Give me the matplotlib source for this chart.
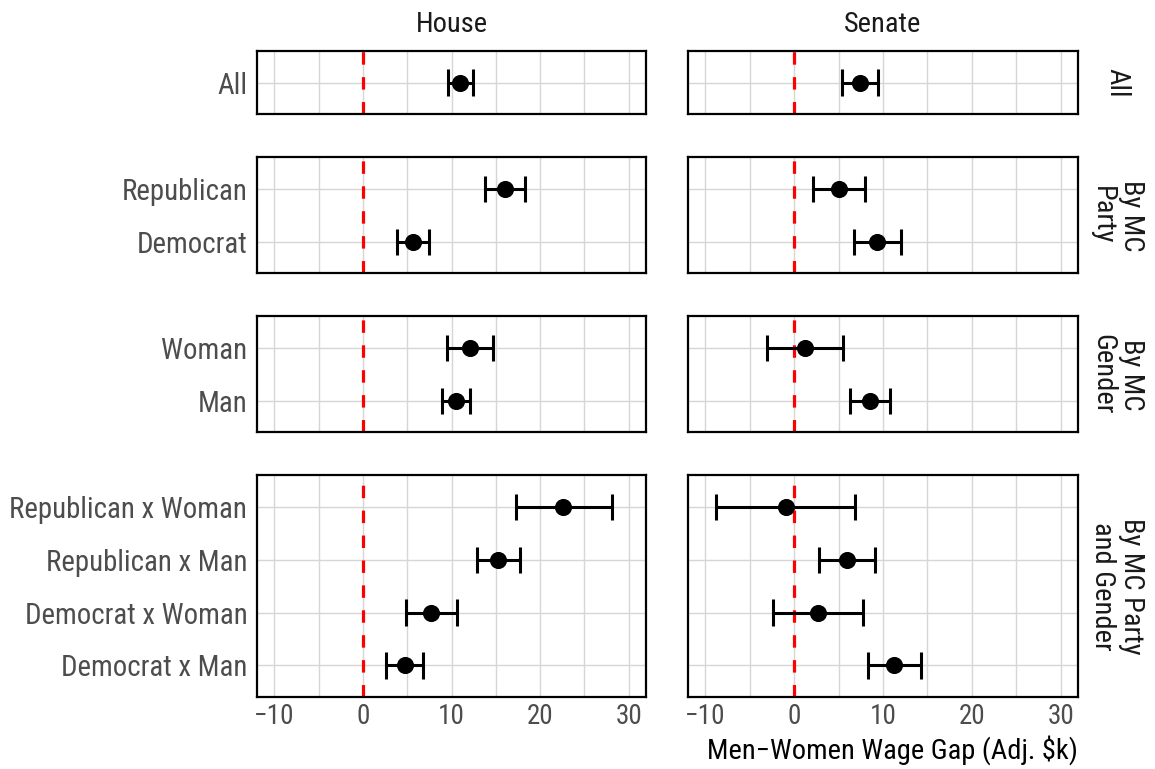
import matplotlib
matplotlib.use("Agg")
import matplotlib.pyplot as plt
import numpy as np

plt.rcParams['font.family'] = ['Roboto Condensed', 'DejaVu Sans']

# Facet columns and rows
chambers = ["House", "Senate"]
groups = ["All", "By MC\nParty", "By MC\nGender", "By MC Party\nand Gender"]
group_labels = [
    ["All"],
    ["Republican", "Democrat"],
    ["Woman", "Man"],
    ["Republican x Woman", "Republican x Man", "Democrat x Woman", "Democrat x Man"],
]

# Estimated men-women wage gap (adj. $k) with confidence limits
house_est = [[10.97], [16.08, 5.63], [12.1, 10.5], [22.6, 15.3, 7.7, 4.77]]
house_lo = [[9.55], [13.83, 3.87], [9.5, 8.94], [17.25, 12.85, 4.88, 2.63]]
house_hi = [[12.4], [18.33, 7.44], [14.65, 12.13], [28.07, 17.73, 10.6, 6.84]]

senate_est = [[7.4], [5.03, 9.35], [1.2, 8.56], [-0.93, 5.97, 2.7, 11.26]]
senate_lo = [[5.4], [2.1, 6.72], [-3.04, 6.3], [-8.8, 2.82, -2.43, 8.26]]
senate_hi = [[9.39], [8.0, 11.98], [5.52, 10.78], [6.9, 9.05, 7.7, 14.27]]

est = [house_est, senate_est]
lo = [house_lo, senate_lo]
hi = [house_hi, senate_hi]

x_major = [-10, 0, 10, 20, 30]
x_minor = [-5, 5, 15, 25]

W, H = 1155, 769
fig = plt.figure(figsize=(W / 100, H / 100), dpi=100)

col_px = [(257, 646), (688, 1078)]
unit = 52.76
gap = 43
top0 = 51

grid_col = "#d6d6d6"
label_col = "#4d4d4d"
strip_size = 20.5

row_tops = []
top = top0
for r, labels in enumerate(group_labels):
    n = len(labels)
    h = (n + 0.2) * unit
    row_tops.append((top, top + h))
    for c in range(2):
        x0, x1 = col_px[c]
        ax = fig.add_axes([x0 / W, 1 - (top + h) / H, (x1 - x0) / W, h / H])
        ax.set_xlim(-11.95, 31.95)
        ax.set_ylim(0.4, n + 0.6)
        ypos = np.arange(n, 0, -1)

        ax.set_xticks(x_major)
        ax.set_xticks(x_minor, minor=True)
        ax.set_yticks(ypos)
        ax.grid(which="both", axis="x", color=grid_col, lw=1.0, zorder=0)
        ax.grid(which="major", axis="y", color=grid_col, lw=1.0, zorder=0)
        ax.set_axisbelow(True)
        ax.tick_params(which="both", length=0)

        if c == 0:
            ax.set_yticklabels(labels, fontsize=20.8, color=label_col)
            ax.tick_params(axis="y", pad=7)
        else:
            ax.set_yticklabels([])
        if r == len(group_labels) - 1:
            ax.set_xticklabels([f"{v}".replace("-", "\u2212") for v in x_major],
                               fontsize=19.5, color=label_col)
            ax.tick_params(axis="x", pad=4)
        else:
            ax.set_xticklabels([])

        for s in ax.spines.values():
            s.set_linewidth(1.6)
            s.set_color("black")

        ax.axvline(0, color="red", lw=2.3, linestyle=(0, (3.9, 3.9)), zorder=2)

        e = est[c][r]
        l = lo[c][r]
        u = hi[c][r]
        ax.hlines(ypos, l, u, color="black", lw=2.2, zorder=3)
        ax.vlines(l, ypos - 0.25, ypos + 0.25, color="black", lw=2.2, zorder=3)
        ax.vlines(u, ypos - 0.25, ypos + 0.25, color="black", lw=2.2, zorder=3)
        ax.plot(e, ypos, "o", color="black", ms=11.3, zorder=4)
    top = top + h + gap

# Column strips
for c, name in enumerate(chambers):
    x0, x1 = col_px[c]
    fig.text((x0 + x1) / 2 / W, 1 - 25 / H, name, ha="center", va="center",
             fontsize=strip_size, color="#1a1a1a")

# Row strips
for r, name in enumerate(groups):
    t, b = row_tops[r]
    fig.text(1117 / W, 1 - (t + b) / 2 / H, name, ha="center", va="center",
             rotation=270, fontsize=strip_size, color="#1a1a1a",
             multialignment="center", linespacing=1.1)

fig.text(1078 / W, 1 - 750 / H, "Men\u2212Women Wage Gap (Adj. $k)", ha="right",
         va="center", fontsize=strip_size, color="black")

fig.savefig("out.png", dpi=100, facecolor="white")
